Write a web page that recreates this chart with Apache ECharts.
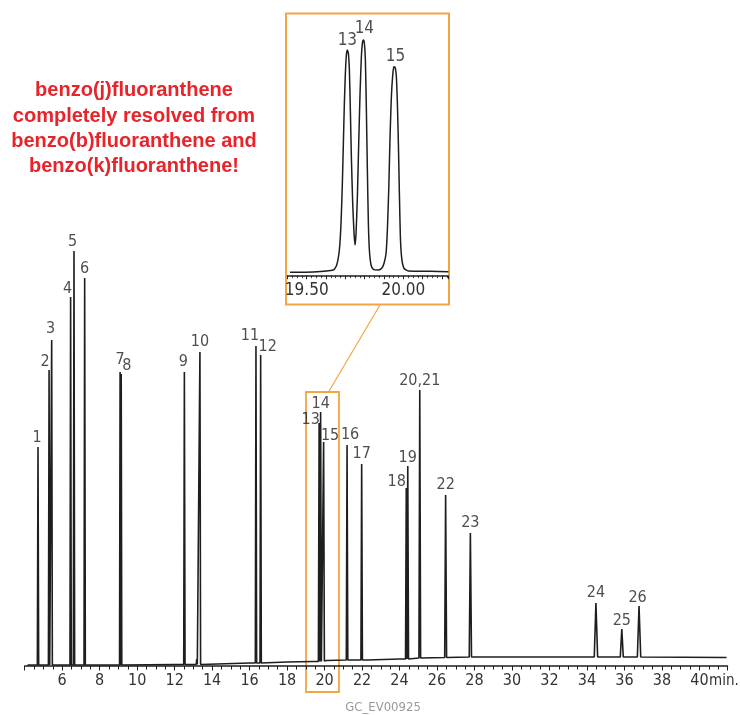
<!DOCTYPE html>
<html>
<head>
<meta charset="utf-8">
<script src="https://cdn.jsdelivr.net/npm/echarts@6/dist/echarts.min.js"></script>
<style>
html,body{margin:0;padding:0;background:#fff;}
#chart{width:740px;height:715px;}
</style>
</head>
<body>
<div id="chart"></div>
<script>
// ---- data ----
const peakNames   = ['1','2','3','4','5','6','7','8','9','10','11','12','13','14','15','16','17','18','19','20,21','22','23','24','25','26'];
const peakTimes   = [4.71,5.30,5.44,6.45,6.63,7.20,9.09,9.15,12.52,13.35,16.34,16.59,19.71,19.79,19.95,21.20,21.98,24.36,24.44,25.08,26.46,27.78,34.48,35.86,36.78];
const peakHeights = [219,296,326,369,415,388,294,292,294,314,320,311,243,254,224,221,202,178,200,276,171,133,63,37,60];
const peakBases   = [1,1,1,1,1,1,1,1,1.5,1.5,3,3,4.5,4.5,5,6,6,7,7,8,8.5,9,9,9,9];
const peakHalfWidths = [0.035,0.035,0.035,0.035,0.035,0.035,0.03,0.03,0.035,0.035,0.035,0.035,0.04,0.04,0.04,0.04,0.04,0.04,0.04,0.045,0.05,0.06,0.09,0.08,0.09];
const minorPeakTimes = [13.18];
const minorPeakHeights = [7];
const minorPeakBases = [1.5];
const baselineTimes  = [4.15,12.0,13.4,16.0,18.0,19.4,20.1,22.3,24.0,25.2,28.0,34.0,41.45];
const baselineValues = [1,1.5,2,3,4,4.5,5.5,6,7,8,9,9,8.5];

const insetTimes  = [19.4136,19.534,19.6378,19.6551,19.6689,19.6775,19.6844,19.6896,19.6948,19.7000,19.7051,19.7103,19.7155,19.7207,19.7258,19.7310,19.7379,19.7448,19.7500,
                     19.7552,19.7621,19.7690,19.7759,19.7828,19.7879,19.7931,19.7983,19.8035,19.8087,19.8138,19.8190,19.8242,19.8328,19.8449,19.8708,19.8880,19.9001,
                     19.9105,19.9173,19.9243,19.9312,19.9380,19.9450,19.9501,19.9536,19.9588,19.9639,19.9691,19.9743,19.9795,19.9846,19.9916,20.0036,20.0260,20.1382,20.2331];
const insetSignal = [3.4,3.7,5.7,10.7,25.7,52.4,92.4,132.4,172.4,202.4,220.7,225.7,222.4,205.7,165.7,119,72.4,42.4,30.7,
                     42.4,79,132.4,182.4,219,232.4,235.7,232.4,215.7,165.7,105.7,52.4,25.7,10.7,6.4,5.7,7.4,12.4,
                     22.4,45.7,85.7,139,179,200.7,208.4,209,207.4,199,172.4,132.4,82.4,39,17.4,7.4,4.7,4.4,4];
const insetPeakNames   = ['13','14','15'];
const insetPeakTimes   = [19.7103,19.7931,19.9536];
const insetPeakHeights = [225.7,235.7,209];

const xTickLabels = [6,8,10,12,14,16,18,20,22,24,26,28,30,32,34,36,38,40];
const insetTickLabels = ['19.50','20.00'];

// ---- label placement (style only) ----
const peakLabelOffsets = [[-1,-9.5],[-4,-8],[-1,-11],[-3,-8],[-1.5,-9.5],[0,-9],[0,-12],[5.5,-8.5],[-1,-10],[0,-10],[-6,-10],[7,-8.5],[-8.5,-3],[0,-8],[6.5,-6.5],[3,-10.5],[0,-10],[-9.5,-6],[0,-8.5],[0,-9.5],[0,-10],[0,-10],[0,-10],[0,-8.5],[-1.5,-8.5]];
const insetLabelOffsets = [[0,-9],[1,-11],[1,-10]];

// ---- build trace ----
const pts = [];
baselineTimes.forEach((t,i)=>pts.push([t, baselineValues[i]]));
peakTimes.forEach((t,i)=>{
  const w = peakHalfWidths[i];
  pts.push([t-w, peakBases[i]]);
  pts.push([t, peakHeights[i]]);
  pts.push([t+w, peakBases[i]]);
});
minorPeakTimes.forEach((t,i)=>{
  pts.push([t-0.03, minorPeakBases[i]]);
  pts.push([t, minorPeakHeights[i]]);
  pts.push([t+0.03, minorPeakBases[i]]);
});
pts.sort((a,b)=>a[0]-b[0]);

const labelData = peakNames.map((n,i)=>({
  name:n, value:[peakTimes[i], peakHeights[i]],
  label:{offset:peakLabelOffsets[i]}
}));
const insetData = insetTimes.map((t,i)=>[t, insetSignal[i]]);
const insetLabelData = insetPeakNames.map((n,i)=>({
  name:n, value:[insetPeakTimes[i], insetPeakHeights[i]],
  label:{offset:insetLabelOffsets[i]}
}));

const FONT = "'Liberation Sans Narrow','DejaVu Sans Condensed',sans-serif";
const ORANGE = '#f5a442';
const INK = '#1e1e1e';

const chart = echarts.init(document.getElementById('chart'), null, {renderer:'canvas'});
chart.setOption({
  animation:false,
  backgroundColor:'#fff',
  grid:[
    {left:24.7, right:12.5, top:246, bottom:49},
    {left:287.4, right:292.2, top:25.7, bottom:439.3}
  ],
  xAxis:[
    {gridIndex:0, type:'value', min:4, max:41.5, interval:2,
     axisLine:{lineStyle:{color:INK,width:1.5}},
     axisTick:{show:true,length:4.5,lineStyle:{color:INK,width:1}},
     minorTick:{show:true,splitNumber:4,length:3.5,lineStyle:{color:INK,width:1}},
     splitLine:{show:false},
     axisLabel:{margin:7,color:'#333',fontSize:16,fontFamily:FONT,
       formatter:v=>xTickLabels.indexOf(v)>=0?String(v):''}},
    {gridIndex:1, type:'value', min:19.4, max:20.23, interval:0.1,
     axisLine:{lineStyle:{color:INK,width:1.5}},
     axisTick:{show:true,length:3.5,lineStyle:{color:INK,width:1}},
     minorTick:{show:true,splitNumber:4,length:2.5,lineStyle:{color:INK,width:0.8}},
     splitLine:{show:false},
     axisLabel:{margin:6,color:'#333',fontSize:17,fontFamily:FONT,
       formatter:v=>{const s=v.toFixed(2);return insetTickLabels.indexOf(s)>=0?s:'';}}}
  ],
  yAxis:[
    {gridIndex:0,type:'value',min:0,max:420,show:false},
    {gridIndex:1,type:'value',min:0,max:250,show:false}
  ],
  series:[
    {type:'line',xAxisIndex:0,yAxisIndex:0,data:pts,showSymbol:false,
     lineStyle:{color:INK,width:1.6},silent:true},
    {type:'scatter',xAxisIndex:0,yAxisIndex:0,data:labelData,symbolSize:0,silent:true,
     label:{show:true,position:'inside',formatter:p=>p.name,color:'#222',fontSize:16,fontFamily:FONT}},
    {type:'line',xAxisIndex:1,yAxisIndex:1,data:insetData,showSymbol:false,smooth:0.2,
     lineStyle:{color:INK,width:1.5},silent:true},
    {type:'scatter',xAxisIndex:1,yAxisIndex:1,data:insetLabelData,symbolSize:0,silent:true,
     label:{show:true,position:'inside',formatter:p=>p.name,color:'#222',fontSize:17,fontFamily:FONT}}
  ],
  graphic:[
    {type:'rect',shape:{x:286,y:13.5,width:163,height:291},style:{fill:'none',stroke:ORANGE,lineWidth:2}},
    {type:'rect',shape:{x:306,y:392,width:33,height:300},style:{fill:'none',stroke:ORANGE,lineWidth:1.8}},
    {type:'line',shape:{x1:380,y1:305,x2:328.5,y2:392},style:{stroke:ORANGE,lineWidth:1.2}},
    {type:'text',x:709,y:681,style:{text:'min.',fill:'#333',font:"15px "+FONT,textVerticalAlign:'middle',textAlign:'left'}},
    {type:'text',x:383,y:708,style:{text:'GC_EV00925',fill:'#9a9a9a',font:"13px "+FONT,textAlign:'center',textVerticalAlign:'middle'}},
    {type:'text',x:134,y:90,style:{text:'benzo(j)fluoranthene',fill:'#e8232a',font:"bold 20px 'Liberation Sans',Arial,sans-serif",textAlign:'center',textVerticalAlign:'middle'}},
    {type:'text',x:134,y:116,style:{text:'completely resolved from',fill:'#e8232a',font:"bold 20px 'Liberation Sans',Arial,sans-serif",textAlign:'center',textVerticalAlign:'middle'}},
    {type:'text',x:134,y:141.5,style:{text:'benzo(b)fluoranthene and',fill:'#e8232a',font:"bold 20px 'Liberation Sans',Arial,sans-serif",textAlign:'center',textVerticalAlign:'middle'}},
    {type:'text',x:134,y:166.5,style:{text:'benzo(k)fluoranthene!',fill:'#e8232a',font:"bold 20px 'Liberation Sans',Arial,sans-serif",textAlign:'center',textVerticalAlign:'middle'}}
  ]
});
</script>
</body>
</html>
